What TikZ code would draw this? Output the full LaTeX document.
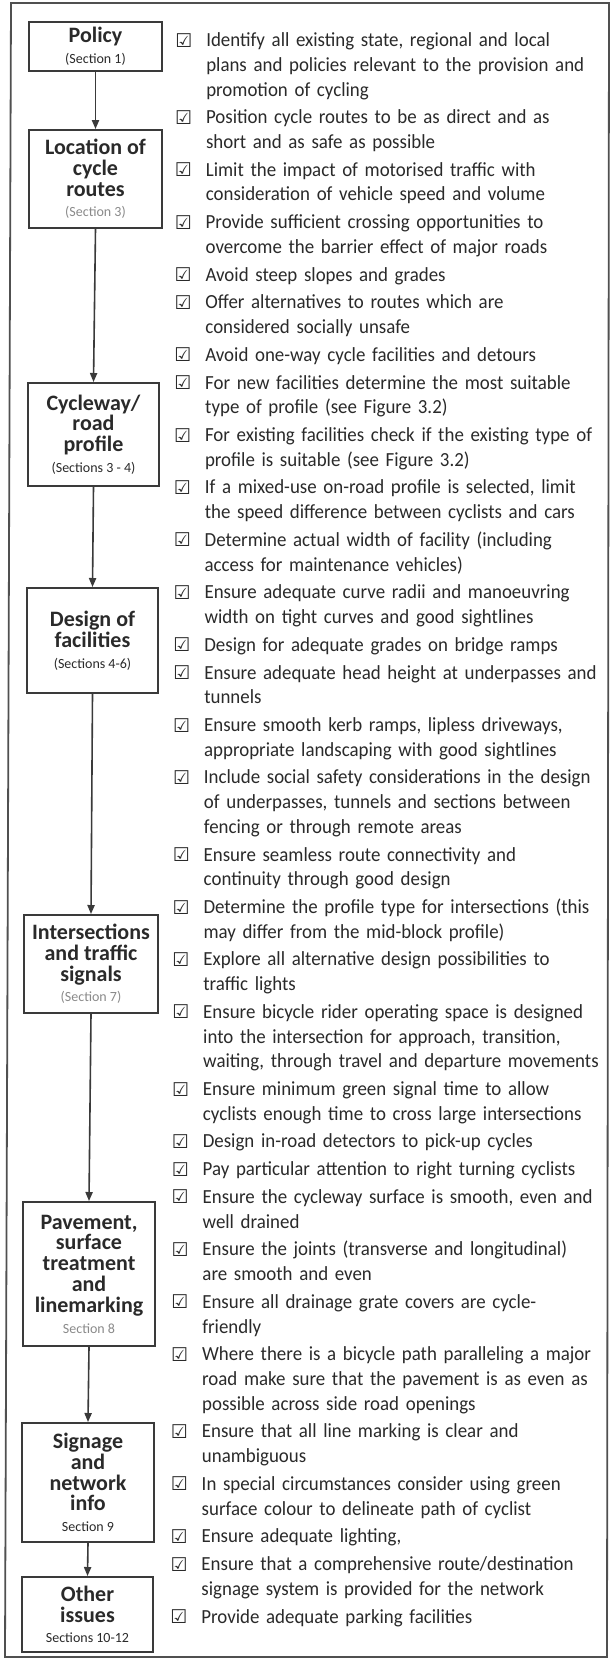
\documentclass[tikz,border=0pt]{standalone}
\usepackage{fontspec}
\setmainfont{Carlito}
\newfontfamily\bodyfont[FakeStretch=0.945]{Carlito}
\newfontfamily\symfont{DejaVu Sans}
\usetikzlibrary{arrows.meta}
\definecolor{boxc}{HTML}{3A3A3A}
\definecolor{txt}{HTML}{2A2A2A}
\definecolor{secgray}{HTML}{8A8A8A}
\definecolor{framec}{HTML}{505050}
\tikzset{
  stage/.style={draw=boxc, line width=1pt, fill=white, align=center, inner sep=0pt,
    text=txt, font=\fontsize{11}{10.4}\selectfont\bfseries},
  arr/.style={draw=boxc, line width=0.8pt, -{Triangle[length=4.5pt,width=3.6pt]}},
  chk/.style={anchor=base, inner sep=0pt, text=txt, font=\symfont\fontsize{9.5}{9.5}\selectfont},
  itemtext/.style={anchor=base west, inner sep=0pt, text width=260pt, align=left,
    text=txt, font=\bodyfont\fontsize{10}{12.33}\selectfont},
}
\newcommand{\secl}[1]{{\fontsize{7}{9}\selectfont\mdseries #1}}
\newcommand{\secg}[1]{{\fontsize{7}{9}\selectfont\mdseries\color{secgray}#1}}
\newcommand{\chkitem}[4]{%
  \pgfmathsetmacro{\myY}{42+#2*24.67+#3*27.77+4.7}%
  \pgfmathsetmacro{\myX}{-\myY*5/1600}%
  \node[chk] (c#1) at ({184+\myX},{\myY+0.5}) {☑};%
  \node[itemtext] (t#1) at ({206+\myX},{\myY}) {#4};%
}
\begin{document}
\begin{tikzpicture}[x=0.5pt,y=-0.5pt]
\useasboundingbox (0,0) rectangle (611,1660);
\fill[white] (0,0) rectangle (611,1660);
\draw[framec, line width=0.9pt] (11,3) -- (609,3) -- (607,1657) -- (5,1657) -- cycle;

% stage boxes
\node[stage, minimum width=66.5pt, minimum height=24.5pt] (pol) at (95.5,46.5) {Policy\\\secl{(Section 1)}};
\node[stage, minimum width=66.5pt, minimum height=49pt] (loc) at (95.5,179) {Location of\\cycle\\routes\\\secg{(Section 3)}};
\node[stage, minimum width=65.5pt, minimum height=51.5pt] (cyc) at (93.5,434.5) {Cycleway/\\road\\profile\\\secl{(Sections 3 - 4)}};
\node[stage, minimum width=65.5pt, minimum height=52.5pt] (des) at (92.5,640.5) {Design of\\facilities\\\secl{(Sections 4-6)}};
\node[stage, minimum width=67pt, minimum height=49pt] (int) at (91,964) {Intersections\\and traffic\\signals\\\secg{(Section 7)}};
\node[stage, minimum width=66pt, minimum height=72pt] (pav) at (89,1274) {Pavement,\\surface\\treatment\\and\\linemarking\\\secg{Section 8}};
\node[stage, minimum width=66pt, minimum height=59.5pt] (sig) at (88,1482.5) {Signage\\and\\network\\info\\\secl{Section 9}};
\node[stage, minimum width=65.5pt, minimum height=37.5pt] (oth) at (87.5,1614.5) {Other\\issues\\\secl{Sections 10-12}};

\draw[arr] (pol.south) -- (loc.north);
\draw[arr] (loc.south) -- (cyc.north);
\draw[arr] (cyc.south) -- (des.north);
\draw[arr] (des.south) -- (int.north);
\draw[arr] (int.south) -- (pav.north);
\draw[arr] (pav.south) -- (sig.north);
\draw[arr] (sig.south) -- (oth.north);

% checklist
\chkitem{1}{0}{0}{Identify all existing state, regional and local\\plans and policies relevant to the provision and\\promotion of cycling}
\chkitem{2}{2}{1}{Position cycle routes to be as direct and as\\short and as safe as possible}
\chkitem{3}{3}{2}{Limit the impact of motorised traffic with\\consideration of vehicle speed and volume}
\chkitem{4}{4}{3}{Provide sufficient crossing opportunities to\\overcome the barrier effect of major roads}
\chkitem{5}{5}{4}{Avoid steep slopes and grades}
\chkitem{6}{5}{5}{Offer alternatives to routes which are\\considered socially unsafe}
\chkitem{7}{6}{6}{Avoid one-way cycle facilities and detours}
\chkitem{8}{6}{7}{For new facilities determine the most suitable\\type of profile (see Figure 3.2)}
\chkitem{9}{7}{8}{For existing facilities check if the existing type of\\profile is suitable (see Figure 3.2)}
\chkitem{10}{8}{9}{If a mixed-use on-road profile is selected, limit\\the speed difference between cyclists and cars}
\chkitem{11}{9}{10}{Determine actual width of facility (including\\access for maintenance vehicles)}
\chkitem{12}{10}{11}{Ensure adequate curve radii and manoeuvring\\width on tight curves and good sightlines}
\chkitem{13}{11}{12}{Design for adequate grades on bridge ramps}
\chkitem{14}{11}{13}{Ensure adequate head height at underpasses and\\tunnels}
\chkitem{15}{12}{14}{Ensure smooth kerb ramps, lipless driveways,\\appropriate landscaping with good sightlines}
\chkitem{16}{13}{15}{Include social safety considerations in the design\\of underpasses, tunnels and sections between\\fencing or through remote areas}
\chkitem{17}{15}{16}{Ensure seamless route connectivity and\\continuity through good design}
\chkitem{18}{16}{17}{Determine the profile type for intersections (this\\may differ from the mid-block profile)}
\chkitem{19}{17}{18}{Explore all alternative design possibilities to\\traffic lights}
\chkitem{20}{18}{19}{Ensure bicycle rider operating space is designed\\into the intersection for approach, transition,\\waiting, through travel and departure movements}
\chkitem{21}{20}{20}{Ensure minimum green signal time to allow\\cyclists enough time to cross large intersections}
\chkitem{22}{21}{21}{Design in-road detectors to pick-up cycles}
\chkitem{23}{21}{22}{Pay particular attention to right turning cyclists}
\chkitem{24}{21}{23}{Ensure the cycleway surface is smooth, even and\\well drained}
\chkitem{25}{22}{24}{Ensure the joints (transverse and longitudinal)\\are smooth and even}
\chkitem{26}{23}{25}{Ensure all drainage grate covers are cycle-\\friendly}
\chkitem{27}{24}{26}{Where there is a bicycle path paralleling a major\\road make sure that the pavement is as even as\\possible across side road openings}
\chkitem{28}{26}{27}{Ensure that all line marking is clear and\\unambiguous}
\chkitem{29}{27}{28}{In special circumstances consider using green\\surface colour to delineate path of cyclist}
\chkitem{30}{28}{29}{Ensure adequate lighting,}
\chkitem{31}{28}{30}{Ensure that a comprehensive route/destination\\signage system is provided for the network}
\chkitem{32}{29}{31}{Provide adequate parking facilities}
\end{tikzpicture}
\end{document}
